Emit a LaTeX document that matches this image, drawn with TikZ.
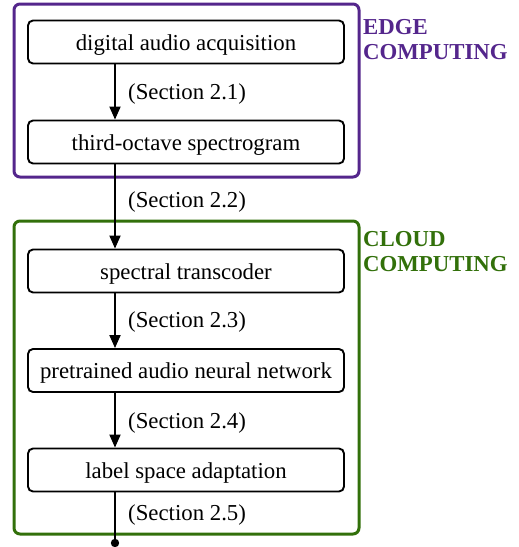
\documentclass[tikz,border=0pt]{standalone}
\usepackage{fontspec}
\setmainfont{Liberation Serif}
\usetikzlibrary{arrows.meta}
\definecolor{edgec}{RGB}{84,38,140}
\definecolor{cloudc}{RGB}{50,112,10}
\begin{document}
\begin{tikzpicture}[x=1pt,y=-1pt,
  every node/.style={font=\fontsize{22.8}{25}\selectfont},
  stepbox/.style={draw=black,line width=1.9pt,rounded corners=5pt,minimum width=316pt,minimum height=43pt,inner sep=0pt,text height=17pt,text depth=1pt},
  group/.style={line width=3pt,rounded corners=6pt,inner sep=0pt},
  lbl/.style={anchor=base west,inner sep=0pt},
  conn/.style={line width=1.9pt,-{Triangle[length=13pt,width=11pt]}},
  glabel/.style={anchor=base west,inner sep=0pt,align=left,font=\fontsize{22.8}{25}\selectfont\bfseries}]
\useasboundingbox (0,0) rectangle (519,547);
\node[group,draw=edgec,minimum width=345pt,minimum height=173pt] (edge) at (186.5,90.5) {};
\node[group,draw=cloudc,minimum width=345pt,minimum height=313pt] (cloud) at (186.5,377.5) {};
\node[glabel,text=edgec] (edgel) at (363,59) {EDGE\\COMPUTING};
\node[glabel,text=cloudc] (cloudl) at (363,271) {CLOUD\\COMPUTING};
\node[stepbox] (n1) at (186,42) {digital audio acquisition};
\node[stepbox] (n2) at (186,142) {third-octave spectrogram};
\node[stepbox] (n3) at (186,271) {spectral transcoder};
\node[stepbox] (n4) at (186,370.5) {pretrained audio neural network};
\node[stepbox] (n5) at (186,470) {label space adaptation};
\coordinate (ax) at (115,0);
\coordinate (end) at (115,543);
\draw[conn] (n1.south -| ax) -- (n2.north -| ax);
\draw[conn] (n2.south -| ax) -- (n3.north -| ax);
\draw[conn] (n3.south -| ax) -- (n4.north -| ax);
\draw[conn] (n4.south -| ax) -- (n5.north -| ax);
\draw[line width=1.9pt] (n5.south -| ax) -- (end);
\fill (end) circle (4.2pt);
\node[lbl] (l1) at (128,99) {(Section 2.1)};
\node[lbl] (l2) at (128,207) {(Section 2.2)};
\node[lbl] (l3) at (128,327) {(Section 2.3)};
\node[lbl] (l4) at (128,428) {(Section 2.4)};
\node[lbl] (l5) at (128,520) {(Section 2.5)};
\end{tikzpicture}
\end{document}
